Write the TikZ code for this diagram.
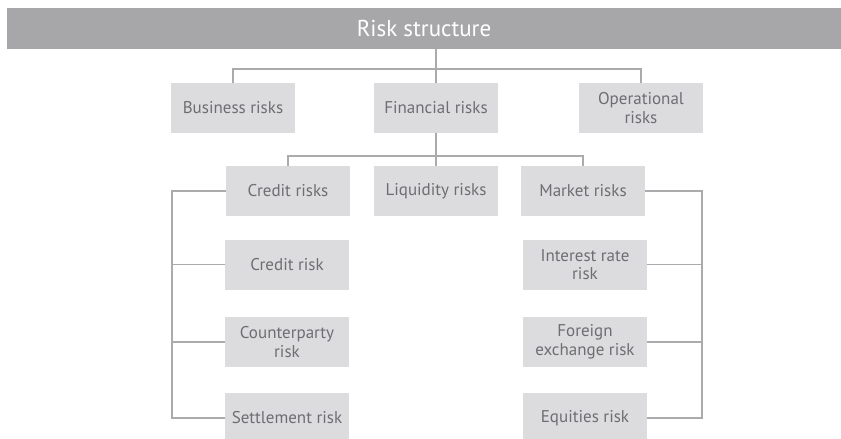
\documentclass[tikz,border=0pt]{standalone}
\usepackage{fontspec}
\setmainfont{PT Sans}
\begin{document}
\begin{tikzpicture}[x=1pt,y=-1pt,
  box/.style={fill=boxgray,text=txtgray,minimum width=124pt,minimum height=50pt,inner sep=0pt,align=center,font=\fontsize{17}{18.5}\selectfont},
  conn/.style={draw=linegray,line width=1.1pt}]
\definecolor{boxgray}{HTML}{DCDCDE}
\definecolor{bargray}{HTML}{A7A7AA}
\definecolor{txtgray}{HTML}{6E6E72}
\definecolor{linegray}{HTML}{ABABAD}
\useasboundingbox[fill=white] (0,0) rectangle (841,439);
\clip (0,0) rectangle (841,439);
\node[fill=bargray,text=white,minimum width=834pt,minimum height=41pt,inner sep=0pt,font=\fontsize{23}{26}\selectfont] (title) at (424,28.5) {Risk structure};
\node[box] (bus) at (233,108) {Business risks};
\node[box] (fin) at (436,108) {Financial risks};
\node[box] (op) at (641,108) {Operational\\risks};
\node[box] (cred) at (288,191) {Credit risks};
\node[box] (liq) at (436,191) {Liquidity risks};
\node[box] (mkt) at (583,191) {Market risks};
\node[box] (cr) at (287,264.5) {Credit risk};
\node[box] (cp) at (287,342) {Counterparty\\risk};
\node[box] (st) at (287,418) {Settlement risk};
\node[box] (ir) at (585,264.5) {Interest rate\\risk};
\node[box] (fx) at (585,342) {Foreign\\exchange risk};
\node[box] (eq) at (585,418) {Equities risk};
\coordinate (j1) at (436,69);
\coordinate (j2) at (436,156);
\coordinate (lb) at (172,0);
\coordinate (rb) at (702,0);
% top level
\draw[conn] (fin.north |- title.south) -- (fin.north);
\draw[conn] (bus.north) |- (j1) -| (op.north);
% second level
\draw[conn] (fin.south) -- (liq.north);
\draw[conn] (cred.north) |- (j2) -| (mkt.north);
% left bracket
\draw[conn] (cred.west) -| (lb |- st.west) -- (st.west);
\draw[conn] (cr.west) -- (lb |- cr.west);
\draw[conn] (cp.west) -- (lb |- cp.west);
% right bracket
\draw[conn] (mkt.east) -| (rb |- eq.east) -- (eq.east);
\draw[conn] (ir.east) -- (rb |- ir.east);
\draw[conn] (fx.east) -- (rb |- fx.east);
\end{tikzpicture}
\end{document}
